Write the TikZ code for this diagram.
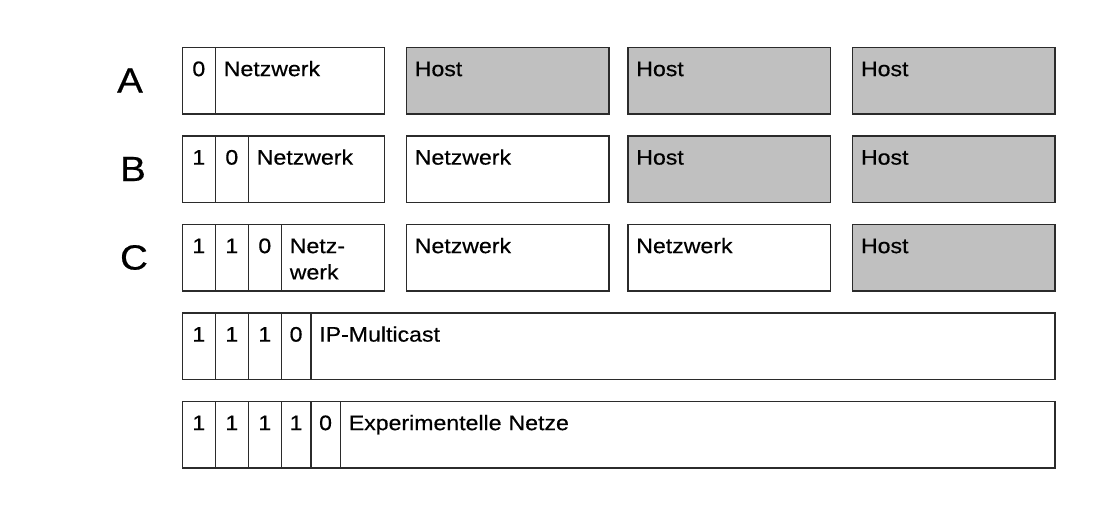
\documentclass[tikz,border=0pt]{standalone}
\usepackage{fontspec}
\setmainfont{Liberation Sans}[FakeStretch=1.1, FakeBold=0.5]
\usetikzlibrary{positioning}
\definecolor{frame}{HTML}{2B2B2B}
\definecolor{hostfill}{HTML}{C0C0C0}
\tikzset{
  cell/.style = {rectangle, draw=frame, line width=1.4pt, outer sep=0pt,
    inner ysep=0pt, anchor=north west, minimum height=66.5pt,
    text height=28.8pt, text depth=37.7pt, font=\fontsize{21}{26.3}\selectfont},
  bit/.style = {cell, inner xsep=0pt, minimum width=#1},
  bit/.default = 33pt,
  field/.style = {cell, inner xsep=8.5pt, text width=#1, align=left},
  net/.style = {field=185.5pt},
  host/.style = {field=185.5pt, fill=hostfill},
  rowlabel/.style = {font=\fontsize{35}{40}\selectfont, inner sep=0pt},
}
\begin{document}
\begin{tikzpicture}[x=1pt, y=-1pt]
\useasboundingbox (0,0) rectangle (1098,504);

% Klasse A
\node[rowlabel] (la) at (130,80.5) {A};
\node[bit] (a0) at (182.3,47.3) {0};
\node[field=152pt, right=0pt of a0] (a1) {Netzwerk};
\node[host] (a2) at (406.3,47.3) {Host};
\node[host] (a3) at (627.8,47.3) {Host};
\node[host] (a4) at (852.5,47.3) {Host};

% Klasse B
\node[rowlabel] (lb) at (133,169) {B};
\node[bit] (b0) at (182.3,135.8) {1};
\node[bit, right=0pt of b0] (b1) {0};
\node[field=119pt, right=0pt of b1] (b2) {Netzwerk};
\node[net] (b3) at (406.3,135.8) {Netzwerk};
\node[host] (b4) at (627.8,135.8) {Host};
\node[host] (b5) at (852.5,135.8) {Host};

% Klasse C
\node[rowlabel] (lc) at (134,257.5) {C};
\node[bit] (c0) at (182.3,224.3) {1};
\node[bit, right=0pt of c0] (c1) {1};
\node[bit, right=0pt of c1] (c2) {0};
\node[field=86pt, right=0pt of c2] (c3) {Netz-\\werk};
\node[net] (c4) at (406.3,224.3) {Netzwerk};
\node[net] (c5) at (627.8,224.3) {Netzwerk};
\node[host] (c6) at (852.5,224.3) {Host};

% Klasse D
\node[bit] (d0) at (182.3,312.8) {1};
\node[bit, right=0pt of d0] (d1) {1};
\node[bit, right=0pt of d1] (d2) {1};
\node[bit=29.5pt, right=0pt of d2] (d3) {0};
\node[field=727.2pt, right=0pt of d3] (d4) {IP-Multicast};

% Klasse E
\node[bit] (e0) at (182.3,401.3) {1};
\node[bit, right=0pt of e0] (e1) {1};
\node[bit, right=0pt of e1] (e2) {1};
\node[bit=29.5pt, right=0pt of e2] (e3) {1};
\node[bit=29.5pt, right=0pt of e3] (e4) {0};
\node[field=697.7pt, right=0pt of e4] (e5) {Experimentelle Netze};

\end{tikzpicture}
\end{document}
